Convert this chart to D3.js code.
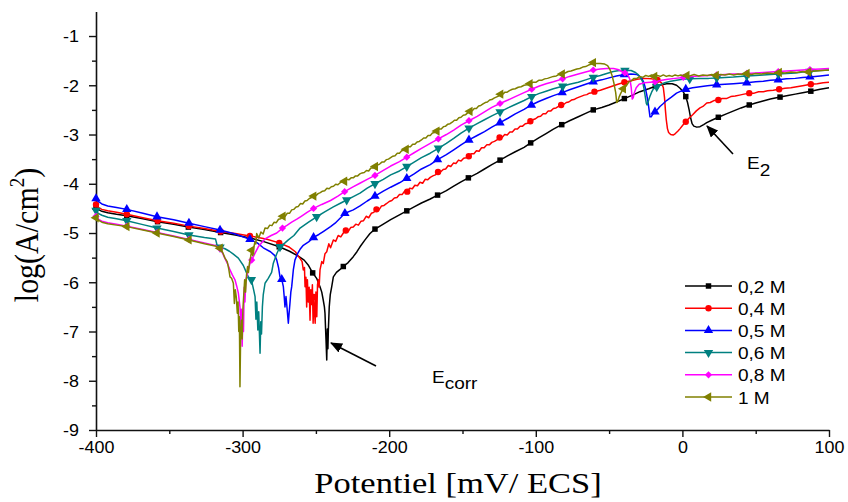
<!DOCTYPE html>
<html>
<head>
<meta charset="utf-8">
<script src="https://cdn.jsdelivr.net/npm/d3@7"></script>
<style>
  body { margin: 0; background: #fff; }
  svg { display: block; }
</style>
</head>
<body>
<svg id="chart" width="848" height="502"></svg>
<script>
// Potentiodynamic polarisation curves, log(i) versus potential, for six concentrations.
const seriesNames = ["0,2 M", "0,4 M", "0,5 M", "0,6 M", "0,8 M", "1 M"];
const xTicks = [-400, -300, -200, -100, 0, 100];
const yTicks = [-9, -8, -7, -6, -5, -4, -3, -2, -1];

// [potential (mV/ECS), log(A/cm2)]
const c02 = [
  [-400,-4.46],[-398.5,-4.52],[-396,-4.56],[-392,-4.59],[-386,-4.62],[-379,-4.65],[-368,-4.71],[-358,-4.77],
  [-347,-4.82],[-337,-4.88],[-326,-4.93],[-315,-4.99],[-305,-5.04],[-295,-5.10],[-285,-5.18],[-275,-5.28],
  [-268,-5.37],[-262,-5.47],[-258,-5.55],[-255,-5.66],[-252.2,-5.81],[-249.5,-5.92],[-247.2,-6.09],[-246,-6.20],
  [-245,-6.36],[-244.2,-6.50],[-243.8,-6.63],[-243.4,-6.95],[-243.1,-7.17],[-242.6,-7.58],[-242.2,-6.95],
  [-241.8,-7.35],[-241.5,-6.97],[-240.9,-6.50],[-240.2,-6.25],[-239.2,-6.09],[-238.1,-5.89],[-236,-5.80],
  [-233.5,-5.74],[-231.3,-5.68],[-228,-5.60],[-224.5,-5.48],[-222,-5.38],[-219.9,-5.28],[-216.5,-5.14],
  [-213.1,-5.01],[-209.7,-4.92],[-204,-4.82],[-199,-4.73],[-193,-4.63],[-188,-4.55],[-183,-4.47],[-178,-4.39],
  [-172,-4.31],[-167,-4.23],[-161,-4.14],[-156,-4.05],[-151,-3.96],[-146,-3.88],[-140,-3.79],[-135,-3.70],
  [-130,-3.61],[-124.4,-3.52],[-119,-3.43],[-114,-3.35],[-108,-3.26],[-103.5,-3.17],[-98,-3.07],[-93,-2.98],
  [-88,-2.89],[-82.3,-2.80],[-77,-2.72],[-71,-2.64],[-66,-2.57],[-60.8,-2.50],[-55,-2.45],[-50,-2.40],
  [-45,-2.34],[-39.6,-2.27],[-34,-2.20],[-29,-2.13],[-23,-2.07],[-18.4,-2.02],[-14,-1.99],[-10.8,-1.97],
  [-7,-1.97],[-4,-2.00],[-1.6,-2.06],[0.5,-2.13],[2.3,-2.23],[3.5,-2.35],[4.6,-2.50],[5.6,-2.66],[6.6,-2.78],
  [7.8,-2.83],[9.8,-2.85],[12,-2.84],[14.5,-2.80],[16.6,-2.76],[20,-2.71],[24.5,-2.65],[30,-2.58],[35,-2.52],
  [40,-2.46],[45.6,-2.40],[50,-2.36],[55,-2.32],[60,-2.28],[66.6,-2.24],[72,-2.21],[77,-2.18],[82,-2.15],
  [87.6,-2.12],[94,-2.08],[100,-2.05]
];

const c04 = [
  [-400,-4.42],[-398.5,-4.48],[-396,-4.52],[-392,-4.55],[-386,-4.58],[-379,-4.62],[-368,-4.69],[-358,-4.75],
  [-347,-4.80],[-336.6,-4.86],[-326,-4.91],[-315,-4.97],[-305,-5.01],[-295,-5.06],[-284,-5.12],[-275,-5.20],
  [-268,-5.29],[-264,-5.38],[-262,-5.47],[-260.5,-5.53],[-259.4,-5.58],[-258.6,-5.75],[-257.8,-5.70],
  [-257.4,-6.09],[-256.8,-5.90],[-256.3,-6.50],[-255.8,-5.95],[-255.2,-6.40],[-254.6,-6.10],[-254.0,-6.77],
  [-253.5,-6.15],[-252.9,-6.45],[-252.4,-6.05],[-251.9,-6.83],[-251.4,-6.30],[-250.9,-6.60],[-250.5,-6.83],
  [-250,-6.20],[-249.4,-6.70],[-248.9,-6.05],[-248.4,-5.95],[-247.8,-6.10],[-247.2,-5.75],[-246.0,-5.58],
  [-245.0,-5.62],[-243.8,-5.42],[-242.6,-5.38],[-241.2,-5.22],[-240.0,-5.30],[-238.1,-5.14],[-236.5,-5.17],
  [-234.8,-5.05],[-233.0,-5.08],[-231.3,-5.00],[-229.6,-4.95],[-228.0,-4.97],[-226.3,-4.89],[-224.5,-4.88],
  [-222.8,-4.82],[-221.0,-4.84],[-219.2,-4.76],[-217.5,-4.75],[-215.7,-4.66],[-214.0,-4.69],[-212.2,-4.60],
  [-210.5,-4.58],[-208.7,-4.52],[-207.0,-4.53],[-205.2,-4.45],[-203.5,-4.44],[-201.7,-4.40],[-200.0,-4.36],
  [-198.2,-4.34],[-196.5,-4.29],[-194.7,-4.28],[-193.0,-4.22],[-191.2,-4.22],[-189.5,-4.15],[-187.7,-4.16],
  [-186.0,-4.09],[-184.2,-4.10],[-182.5,-4.03],[-180.7,-4.04],[-179.0,-3.97],[-177.2,-3.99],[-175.5,-3.91],
  [-173.7,-3.92],[-172.0,-3.87],[-170.2,-3.84],[-168.5,-3.82],[-166.7,-3.76],[-165.0,-3.76],[-163.2,-3.71],
  [-161.5,-3.70],[-159.7,-3.63],[-158.0,-3.65],[-156.2,-3.58],[-154.5,-3.59],[-152.7,-3.52],[-151.0,-3.54],
  [-149.2,-3.48],[-147.5,-3.47],[-145.7,-3.44],[-144.0,-3.39],[-142.2,-3.39],[-140.5,-3.33],[-138.7,-3.34],
  [-137.0,-3.27],[-135.2,-3.27],[-133.5,-3.21],[-131.7,-3.21],[-130.0,-3.16],[-128.2,-3.14],[-126.5,-3.11],
  [-124.7,-3.06],[-123.0,-3.06],[-121.2,-3.00],[-119.5,-3.01],[-117.7,-2.95],[-116.0,-2.95],[-114.2,-2.89],
  [-112.5,-2.89],[-110.7,-2.83],[-109.0,-2.83],[-107.2,-2.78],[-105.5,-2.77],[-103.7,-2.73],[-102.0,-2.70],
  [-100.2,-2.68],[-98.5,-2.64],[-96.7,-2.63],[-95.0,-2.58],[-93.2,-2.58],[-91.5,-2.52],[-89.7,-2.52],
  [-88.0,-2.47],[-86.2,-2.46],[-84.5,-2.43],[-82.7,-2.40],[-81.0,-2.39],[-79.2,-2.35],[-77.5,-2.34],
  [-75.7,-2.30],[-74.0,-2.29],[-72.2,-2.26],[-70.5,-2.24],[-68.7,-2.22],[-67.0,-2.20],[-65.2,-2.19],
  [-63.5,-2.16],[-61.7,-2.15],[-60.0,-2.13],[-56,-2.10],[-52,-2.06],[-48,-2.02],[-44,-1.98],[-39.6,-1.94],
  [-35,-1.91],[-31,-1.88],[-26,-1.86],[-21,-1.87],[-17,-1.89],[-14.2,-1.95],[-13.0,-2.05],[-12.2,-2.25],
  [-11.6,-2.50],[-11.0,-2.70],[-10.2,-2.88],[-9.4,-2.96],[-8.0,-3.00],[-6.3,-3.01],[-4.8,-2.98],[-3.0,-2.93],
  [-1.6,-2.88],[0.5,-2.80],[2.3,-2.74],[4.5,-2.67],[7.0,-2.60],[9.5,-2.52],[12,-2.46],[14,-2.43],[16.6,-2.36],
  [19,-2.35],[21.5,-2.31],[24.5,-2.30],[27,-2.27],[30,-2.27],[33,-2.23],[36,-2.22],[39,-2.20],[42,-2.18],
  [45.6,-2.16],[49,-2.16],[52,-2.13],[55.2,-2.13],[58,-2.11],[62,-2.10],[66,-2.08],[70,-2.06],[74,-2.05],
  [78,-2.03],[82,-2.01],[87.6,-1.98],[92,-1.97],[96,-1.95],[100,-1.94]
];

const c05 = [
  [-400,-4.30],[-398.5,-4.36],[-396,-4.41],[-392,-4.45],[-386,-4.48],[-379,-4.52],[-368,-4.60],[-358.4,-4.67],
  [-347,-4.73],[-336.6,-4.80],[-326,-4.87],[-315.4,-4.94],[-305,-5.02],[-295,-5.13],[-290,-5.20],[-285.9,-5.30],
  [-281,-5.38],[-278,-5.46],[-276.7,-5.55],[-275.5,-5.70],[-274.5,-5.89],[-273.3,-5.94],[-272.2,-6.09],
  [-271.6,-6.30],[-271.1,-6.50],[-270.4,-6.29],[-269.6,-6.55],[-268.8,-6.83],[-268.2,-6.60],[-267.7,-6.43],
  [-267.1,-6.20],[-266.5,-6.09],[-265.4,-5.75],[-264.3,-5.55],[-262.5,-5.42],[-260.8,-5.33],[-258.6,-5.25],
  [-255,-5.18],[-251.6,-5.09],[-248,-5.03],[-245,-4.97],[-240,-4.87],[-236.9,-4.80],[-233.5,-4.70],
  [-230.2,-4.60],[-224.5,-4.53],[-219.9,-4.45],[-215,-4.35],[-209.7,-4.25],[-204,-4.15],[-199,-4.07],
  [-193,-3.98],[-188,-3.89],[-183,-3.80],[-178,-3.70],[-172,-3.61],[-167,-3.51],[-161,-3.41],[-156,-3.31],
  [-151,-3.21],[-145.6,-3.11],[-140,-3.02],[-135,-2.94],[-130,-2.85],[-124.4,-2.76],[-119,-2.67],[-114,-2.58],
  [-108,-2.49],[-103,-2.40],[-98,-2.33],[-93,-2.27],[-88,-2.21],[-82,-2.15],[-77,-2.09],[-71,-2.03],
  [-66,-1.98],[-60.8,-1.93],[-55,-1.89],[-50,-1.85],[-45,-1.81],[-39.6,-1.78],[-35,-1.77],[-31.2,-1.78],
  [-29.5,-1.81],[-27.8,-1.86],[-26.5,-1.93],[-25.5,-2.03],[-24.4,-2.18],[-23.3,-2.37],[-22.1,-2.64],
  [-21.3,-2.64],[-20.5,-2.60],[-18.7,-2.54],[-17,-2.49],[-15.3,-2.43],[-13,-2.37],[-10.8,-2.31],[-7.5,-2.24],
  [-4,-2.16],[-1,-2.12],[2.3,-2.08],[7,-2.05],[12,-2.03],[17,-2.01],[23.4,-1.99],[29,-1.98],[34.8,-1.97],
  [39,-1.96],[43.9,-1.95],[50,-1.93],[55.2,-1.92],[60,-1.90],[65.4,-1.89],[71,-1.87],[77,-1.86],[82,-1.84],
  [87,-1.83],[94,-1.81],[100,-1.79]
];

const c06 = [
  [-400,-4.54],[-398.5,-4.60],[-396,-4.64],[-392,-4.68],[-386,-4.71],[-379,-4.75],[-368,-4.83],[-358.4,-4.90],
  [-347,-4.97],[-336.6,-5.04],[-326,-5.09],[-318.5,-5.12],[-317.8,-5.20],[-317.2,-5.28],[-315.4,-5.29],
  [-312,-5.32],[-309,-5.37],[-306.3,-5.43],[-302.9,-5.51],[-299.5,-5.66],[-296.1,-5.89],[-294,-5.95],
  [-292.5,-6.15],[-291.5,-6.29],[-290.9,-6.75],[-290.3,-6.40],[-289.6,-6.97],[-289,-6.60],[-288.1,-7.44],
  [-287.6,-6.80],[-287.1,-7.05],[-286.5,-6.50],[-285.9,-6.25],[-284.7,-6.02],[-282.5,-5.92],[-280.2,-5.80],
  [-279.1,-5.62],[-276.7,-5.42],[-274.5,-5.28],[-271.1,-5.20],[-268.8,-5.14],[-265,-5.05],[-260.8,-4.90],
  [-255,-4.78],[-249.5,-4.67],[-244,-4.57],[-238.1,-4.47],[-233,-4.39],[-229,-4.33],[-224.5,-4.26],
  [-219.9,-4.19],[-215,-4.09],[-209.7,-4.00],[-204,-3.91],[-199,-3.82],[-193,-3.74],[-188,-3.65],[-183,-3.56],
  [-178,-3.47],[-172,-3.38],[-166.5,-3.28],[-161,-3.18],[-156,-3.08],[-151,-2.97],[-145.6,-2.87],[-140,-2.78],
  [-135,-2.70],[-130,-2.62],[-124.4,-2.54],[-119,-2.46],[-114,-2.39],[-108,-2.31],[-102.8,-2.23],[-98,-2.17],
  [-93,-2.12],[-88,-2.07],[-81.7,-2.02],[-77,-1.98],[-71,-1.94],[-66,-1.89],[-60.8,-1.84],[-56,-1.80],
  [-51.6,-1.76],[-47.1,-1.72],[-43,-1.70],[-39.2,-1.70],[-35,-1.70],[-32,-1.74],[-30,-1.79],[-28.9,-1.83],
  [-27.2,-1.92],[-26.3,-2.05],[-25.5,-2.20],[-24.6,-2.37],[-24.1,-2.40],[-23.3,-2.33],[-22.1,-2.22],
  [-21,-2.14],[-19.9,-2.08],[-17.5,-2.03],[-15.3,-1.99],[-12,-1.95],[-8,-1.92],[-4,-1.90],[0,-1.88],
  [5,-1.87],[12,-1.86],[18,-1.86],[23.4,-1.85],[29,-1.84],[34.8,-1.83],[39,-1.82],[43.9,-1.81],[50,-1.80],
  [55.2,-1.79],[60,-1.78],[65.4,-1.77],[71,-1.76],[77,-1.75],[82,-1.73],[87,-1.72],[94,-1.70],[100,-1.69]
];

const c08 = [
  [-400,-4.66],[-398.5,-4.72],[-396,-4.76],[-392,-4.79],[-386,-4.82],[-379,-4.86],[-368,-4.93],[-358.4,-4.99],
  [-347,-5.06],[-336.6,-5.13],[-326,-5.20],[-318,-5.26],[-315.4,-5.32],[-313.5,-5.42],[-312,-5.52],
  [-310.3,-5.62],[-308.6,-5.75],[-307,-5.85],[-305.2,-5.95],[-304,-6.08],[-302.9,-6.22],[-302.2,-6.40],
  [-301.8,-6.50],[-301.2,-6.90],[-300.8,-6.55],[-300.3,-7.30],[-299.8,-6.70],[-299.4,-7.00],[-298.9,-6.10],
  [-298.4,-6.40],[-297.8,-5.95],[-297.2,-5.89],[-296.1,-5.75],[-295,-5.62],[-293.8,-5.55],[-291.5,-5.41],
  [-289.3,-5.28],[-287,-5.20],[-284.7,-5.12],[-280.5,-5.05],[-276.7,-5.00],[-272.8,-4.90],[-269.5,-4.84],
  [-266.5,-4.78],[-263,-4.72],[-260,-4.66],[-256,-4.58],[-251.6,-4.50],[-246,-4.42],[-240,-4.34],[-235,-4.25],
  [-230.4,-4.16],[-225,-4.07],[-220,-3.99],[-215,-3.91],[-209.7,-3.83],[-204,-3.73],[-199,-3.64],[-193,-3.55],
  [-188,-3.46],[-183,-3.37],[-178,-3.28],[-172,-3.18],[-166.5,-3.09],[-161,-3.00],[-156,-2.91],[-151,-2.81],
  [-145.6,-2.72],[-140,-2.63],[-135,-2.54],[-130,-2.45],[-124.4,-2.37],[-119,-2.30],[-114,-2.23],[-108,-2.15],
  [-102.8,-2.08],[-98,-2.02],[-93,-1.97],[-88,-1.93],[-81.7,-1.87],[-77,-1.82],[-71,-1.77],[-66,-1.73],
  [-60.8,-1.69],[-56,-1.67],[-51.6,-1.66],[-47,-1.66],[-44,-1.68],[-42,-1.71],[-39.2,-1.75],[-37,-1.80],
  [-35.7,-1.89],[-34.9,-2.05],[-34.2,-2.28],[-33.5,-2.25],[-32.8,-2.15],[-31.5,-2.05],[-29.5,-1.98],
  [-26,-1.95],[-22,-1.94],[-18.7,-1.93],[-14,-1.90],[-10,-1.88],[-5,-1.86],[0.6,-1.84],[6,-1.82],[12,-1.81],
  [18,-1.80],[23.4,-1.79],[29,-1.78],[34.8,-1.77],[39,-1.77],[43.9,-1.76],[50,-1.75],[55.2,-1.74],[60,-1.73],
  [65.4,-1.72],[71,-1.71],[77,-1.70],[82,-1.69],[87,-1.68],[94,-1.67],[100,-1.66]
];

const c10 = [
  [-400,-4.69],[-398.5,-4.74],[-396,-4.78],[-392,-4.81],[-386,-4.84],[-379,-4.87],[-368,-4.94],[-358.4,-5.00],
  [-347,-5.07],[-336.6,-5.14],[-326,-5.22],[-318,-5.27],[-315.4,-5.31],[-313.5,-5.40],[-312,-5.51],
  [-310.5,-5.58],[-309.5,-5.72],[-308.6,-5.89],[-307.5,-5.92],[-306.3,-6.02],[-305.6,-6.43],[-305,-6.15],
  [-304.3,-6.30],[-303.6,-6.63],[-303.1,-6.40],[-302.6,-7.00],[-302.2,-6.70],[-301.8,-8.12],[-301.3,-7.00],
  [-300.8,-6.77],[-300.3,-7.15],[-299.8,-6.55],[-299.2,-6.25],[-298.6,-5.95],[-298,-6.20],[-297.3,-5.85],
  [-296.6,-5.68],[-296,-5.80],[-295.3,-5.60],[-294.5,-5.48],[-293.8,-5.35],[-293.1,-5.46],[-292.4,-5.30],
  [-291.6,-5.18],[-291,-5.22],[-290.4,-5.01],[-289,-5.10],[-287.5,-4.98],[-286,-5.02],[-284.7,-4.90],
  [-283,-4.91],[-281.5,-4.84],[-280,-4.85],[-278.5,-4.78],[-277,-4.79],[-275.5,-4.72],[-274,-4.71],
  [-272.5,-4.66],[-271,-4.66],[-269.5,-4.60],[-268,-4.60],[-266.5,-4.53],[-265,-4.52],[-263.5,-4.47],
  [-262,-4.46],[-260.5,-4.40],[-259,-4.41],[-257.5,-4.35],[-256,-4.34],[-254.5,-4.30],[-253,-4.28],
  [-251.5,-4.25],[-250,-4.24],[-248.5,-4.20],[-247,-4.18],[-245.5,-4.15],[-244,-4.14],[-242.5,-4.09],
  [-241,-4.10],[-239.5,-4.06],[-238,-4.05],[-236.5,-4.01],[-235,-4.02],[-233.5,-3.98],[-232,-3.95],
  [-230.5,-3.95],[-229,-3.91],[-227.5,-3.92],[-226,-3.88],[-224.5,-3.88],[-223,-3.84],[-221.5,-3.84],
  [-220,-3.80],[-218.5,-3.78],[-217,-3.77],[-215.5,-3.73],[-214,-3.74],[-212.5,-3.68],[-211,-3.68],
  [-209.5,-3.65],[-208,-3.62],[-206.5,-3.60],[-205,-3.56],[-203.5,-3.56],[-202,-3.51],[-200.5,-3.50],
  [-199,-3.47],[-197.5,-3.44],[-196,-3.43],[-194.5,-3.38],[-193,-3.38],[-191.5,-3.33],[-190,-3.32],
  [-188.5,-3.30],[-187,-3.25],[-185.5,-3.25],[-184,-3.20],[-182.5,-3.20],[-181,-3.15],[-179.5,-3.14],
  [-178,-3.11],[-176.5,-3.07],[-175,-3.07],[-173.5,-3.02],[-172,-3.02],[-170.5,-2.97],[-169,-2.96],
  [-167.5,-2.93],[-166,-2.89],[-164.5,-2.89],[-163,-2.84],[-161.5,-2.83],[-160,-2.79],[-158.5,-2.78],
  [-157,-2.75],[-155.5,-2.71],[-154,-2.71],[-152.5,-2.66],[-151,-2.65],[-149.5,-2.61],[-148,-2.60],
  [-146.5,-2.56],[-145,-2.53],[-143.5,-2.52],[-142,-2.47],[-140.5,-2.47],[-139,-2.42],[-137.5,-2.41],
  [-136,-2.38],[-134.5,-2.35],[-133,-2.34],[-131.5,-2.30],[-130,-2.29],[-128.5,-2.26],[-127,-2.24],
  [-125.5,-2.22],[-124,-2.18],[-122.5,-2.18],[-121,-2.14],[-119.5,-2.14],[-118,-2.11],[-116,-2.08],
  [-114,-2.07],[-112,-2.04],[-110,-2.03],[-108,-2.00],[-106,-1.99],[-104,-1.97],[-102,-1.94],[-100,-1.94],
  [-98,-1.90],[-96,-1.90],[-94,-1.87],[-92,-1.86],[-90,-1.84],[-88,-1.82],[-86,-1.81],[-84,-1.78],
  [-82,-1.77],[-80,-1.75],[-78,-1.72],[-76,-1.71],[-74,-1.69],[-72,-1.67],[-70,-1.66],[-68,-1.63],
  [-66,-1.62],[-64,-1.59],[-62,-1.57],[-60.8,-1.54],[-59,-1.56],[-56,-1.56],[-53,-1.57],[-51,-1.60],
  [-49.4,-1.68],[-48,-1.80],[-46.7,-1.96],[-45.5,-2.15],[-44.8,-2.35],[-44.0,-2.32],[-43.2,-2.24],
  [-42,-2.16],[-40.3,-2.07],[-38.5,-2.02],[-36.5,-1.93],[-35,-1.91],[-33,-1.86],[-31,-1.86],[-29,-1.82],
  [-27,-1.84],[-25,-1.80],[-23,-1.82],[-21,-1.79],[-19,-1.82],[-17,-1.80],[-15,-1.82],[-13,-1.79],
  [-11,-1.82],[-9,-1.80],[-7,-1.82],[-5,-1.79],[-3,-1.81],[-1,-1.79],[1,-1.82],[3,-1.80],[5,-1.81],
  [8,-1.78],[11,-1.81],[14,-1.79],[17,-1.80],[20,-1.78],[23,-1.80],[26,-1.78],[29,-1.79],[32,-1.77],
  [35,-1.79],[38,-1.77],[41,-1.78],[44,-1.76],[47,-1.78],[50,-1.76],[54,-1.77],[58,-1.75],[62,-1.76],
  [66,-1.74],[70,-1.75],[74,-1.73],[78,-1.74],[82,-1.72],[86,-1.73],[90,-1.71],[95,-1.70],[100,-1.69]
];

const seriesData = [c02, c04, c05, c06, c08, c10];
const colors = ["#000000", "#ff0000", "#0000ff", "#008080", "#ff00ff", "#808000"];
// symbol type and rotation for each series marker
const symbols = [
  { type: d3.symbolSquare,   size: 30, rot: 0 },
  { type: d3.symbolCircle,   size: 32, rot: 0 },
  { type: d3.symbolTriangle, size: 38, rot: 0 },
  { type: d3.symbolTriangle, size: 38, rot: 180 },
  { type: d3.symbolSquare,   size: 26, rot: 45 },
  { type: d3.symbolTriangle, size: 38, rot: -90 }
];
const markerStep = 21.2;   // one symbol every 21.2 mV along each curve

const svg = d3.select("#chart");
const sx = 1.12;           // horizontal text stretch
const sansFont = "'Liberation Sans', Arial, sans-serif";
const serifFont = "'Liberation Serif', 'Times New Roman', serif";

const x = d3.scaleLinear().domain([-400, 100]).range([96, 829]);
const y = d3.scaleLinear().domain([-9, -0.5]).range([430, 11.4]);

// ---- axes ----
const yAxis = svg.append("g").attr("transform", "translate(96,0)")
  .call(d3.axisLeft(y).tickValues(yTicks).tickSize(7).tickSizeOuter(0).tickPadding(8.2)
    .tickFormat(d => String(d)));
const yMinor = svg.append("g").attr("transform", "translate(96,0)")
  .call(d3.axisLeft(y).tickValues(d3.range(-8.5, -0.9, 1)).tickSize(4).tickSizeOuter(0).tickFormat(""));
const xAxis = svg.append("g").attr("transform", "translate(0,430)")
  .call(d3.axisBottom(x).tickValues(xTicks).tickSize(7).tickSizeOuter(0).tickPadding(5)
    .tickFormat(d => String(d)));
const xMinor = svg.append("g").attr("transform", "translate(0,430)")
  .call(d3.axisBottom(x).tickValues([-350, -250, -150, -50, 50]).tickSize(4).tickSizeOuter(0).tickFormat(""));
yMinor.select(".domain").remove();
xMinor.select(".domain").remove();
svg.selectAll(".domain").attr("stroke", "#111").attr("stroke-width", 1.6);
svg.selectAll(".tick line").attr("stroke", "#111").attr("stroke-width", 1.4);
svg.selectAll(".tick text")
  .attr("font-family", sansFont).attr("font-size", 16).attr("fill", "#000")
  .attr("transform", `scale(${sx},1)`);
yAxis.selectAll(".tick text").attr("dy", "0.36em");

// ---- curves ----
const line = d3.line().x(d => x(d[0])).y(d => y(d[1]));
const plot = svg.append("g");
seriesData.forEach((data, i) => {
  plot.append("path").datum(data)
    .attr("d", line).attr("fill", "none")
    .attr("stroke", colors[i]).attr("stroke-width", 1.5).attr("stroke-linejoin", "round");
  const marks = d3.range(0, 24).map(k => -400 + k * markerStep)
    .map(e => data[d3.leastIndex(data, d => Math.abs(d[0] - e))]);
  const sym = d3.symbol().type(symbols[i].type).size(symbols[i].size);
  plot.append("g").selectAll("path").data(marks).join("path")
    .attr("d", sym)
    .attr("transform", d => `translate(${x(d[0])},${y(d[1])}) rotate(${symbols[i].rot})`)
    .attr("fill", colors[i]);
});

// ---- legend ----
const legend = svg.append("g");
seriesNames.forEach((name, i) => {
  const ly = 286 + 22.2 * i;
  legend.append("line").attr("x1", 685).attr("x2", 732).attr("y1", ly).attr("y2", ly)
    .attr("stroke", colors[i]).attr("stroke-width", 1.5);
  legend.append("path").attr("d", d3.symbol().type(symbols[i].type).size(symbols[i].size))
    .attr("transform", `translate(708.5,${ly}) rotate(${symbols[i].rot})`).attr("fill", colors[i]);
  legend.append("text").attr("transform", `translate(738,${ly + 6.5}) scale(${sx},1)`)
    .attr("font-family", sansFont).attr("font-size", 17).text(name);
});

// ---- axis titles ----
svg.append("text")
  .attr("transform", `translate(458,493) scale(1.15,1)`)
  .attr("text-anchor", "middle").attr("font-family", serifFont).attr("font-size", 30)
  .text("Potentiel [mV/ ECS]");
const yTitle = svg.append("text")
  .attr("transform", `translate(38,235) scale(1.15,1) rotate(-90)`)
  .attr("text-anchor", "middle").attr("font-family", serifFont).attr("font-size", 30);
yTitle.append("tspan").text("log(A/cm");
yTitle.append("tspan").attr("font-size", 19).attr("dy", -12).text("2");
yTitle.append("tspan").attr("dy", 12).text(")");

// ---- annotations ----
const defs = svg.append("defs");
defs.append("marker").attr("id", "head").attr("viewBox", "0 0 12 10")
  .attr("refX", 11).attr("refY", 5).attr("markerWidth", 12).attr("markerHeight", 10)
  .attr("markerUnits", "userSpaceOnUse").attr("orient", "auto")
  .append("path").attr("d", "M0,0 L12,5 L0,10 Z").attr("fill", "#000");

svg.append("line").attr("x1", 376).attr("y1", 366).attr("x2", 331).attr("y2", 343)
  .attr("stroke", "#000").attr("stroke-width", 1.6).attr("marker-end", "url(#head)");
svg.append("line").attr("x1", 733).attr("y1", 154).attr("x2", 707).attr("y2", 126)
  .attr("stroke", "#000").attr("stroke-width", 1.6).attr("marker-end", "url(#head)");

const ecorr = svg.append("text").attr("transform", `translate(432,383) scale(${sx},1)`)
  .attr("font-family", sansFont).attr("font-size", 17);
ecorr.append("tspan").text("E");
ecorr.append("tspan").attr("dy", 6).text("corr");

const e2 = svg.append("text").attr("transform", `translate(747,169) scale(${sx},1)`)
  .attr("font-family", sansFont).attr("font-size", 17);
e2.append("tspan").text("E");
e2.append("tspan").attr("dy", 7).text("2");
</script>
</body>
</html>
